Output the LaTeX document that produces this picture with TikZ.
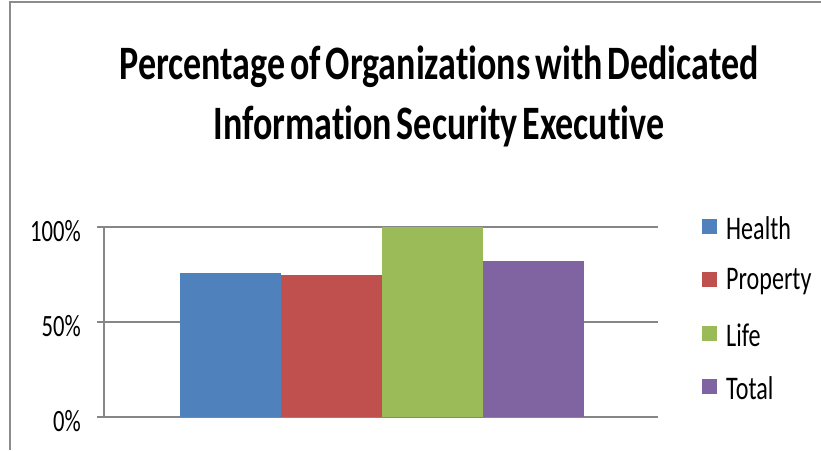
\documentclass[tikz,border=0pt]{standalone}
\usepackage{fontspec}
\setmainfont{Carlito}
\newfontfamily\chartfont[FakeStretch=0.73]{Carlito}
\newfontfamily\titlefont[FakeStretch=0.75,WordSpace=0.6,Ligatures=NoCommon]{Carlito}
\usetikzlibrary{positioning}
\definecolor{framegray}{HTML}{8C8C8C}
\definecolor{gridgray}{HTML}{868686}
\definecolor{health}{HTML}{4F81BD}
\definecolor{property}{HTML}{C0504D}
\definecolor{life}{HTML}{9BBB59}
\definecolor{total}{HTML}{8064A2}
\tikzset{
	ticklabel/.style={anchor=east,inner sep=0pt,font=\chartfont\fontsize{31}{36}\selectfont},
	legkey/.style={minimum size=15pt,inner sep=0pt},
	leglabel/.style={anchor=west,inner sep=0pt,font=\chartfont\fontsize{33}{38}\selectfont}
}

\begin{document}
\begin{tikzpicture}[x=1pt,y=-1pt]
\useasboundingbox (0,0) rectangle (821,450);
\draw[framegray,line width=1.5pt] (10,450) -- (10,2) -- (821,2);
\node[font=\titlefont\bfseries\fontsize{48}{60}\selectfont,align=center] (title) at (439,96)
	{Percentage of Organizations with Dedicated\\Information Security Executive};
% grid and axis
\foreach \v/\lab in {0/0\%,50/50\%,100/100\%}{
	\draw[gridgray,line width=1.5pt] (97,{417-1.9*\v}) -- (658,{417-1.9*\v});
	\node[ticklabel] (tick\v) at (81,{421-1.9*\v}) {\lab};
}
\draw[gridgray,line width=1.5pt] (104,227) -- (104,417);
% bars
\foreach \val/\col [count=\i] in {76/health,75/property,100/life,82/total}
	\fill[\col] ({180+101*(\i-1)},417) rectangle +(101,{-1.9*\val});
% legend
\foreach \col/\name [count=\i] in {health/Health,property/Property,life/Life,total/Total}{
	\node[legkey,fill=\col] (key\i) at (709.5,{226.5+53.3*(\i-1)}) {};
	\node[leglabel] (lab\i) at (726,{228.5+53.3*(\i-1)}) {\name};
}
\end{tikzpicture}
\end{document}
